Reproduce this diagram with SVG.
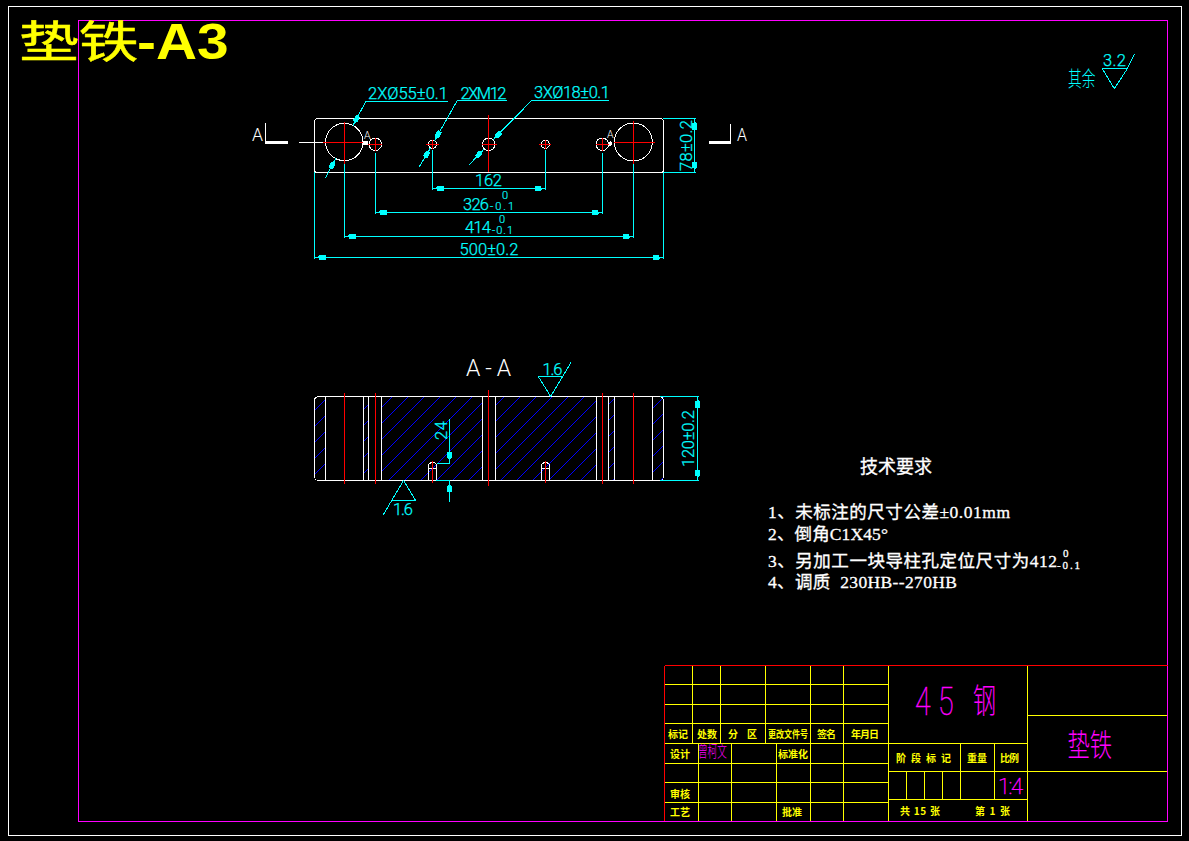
<svg xmlns="http://www.w3.org/2000/svg" width="1189" height="841" viewBox="0 0 1189 841" shape-rendering="crispEdges">
<style>
.w{fill:none;stroke:#fff;stroke-width:1}
.r{fill:none;stroke:#f00;stroke-width:1}
.c{fill:none;stroke:#0ff;stroke-width:1}
.y{fill:none;stroke:#ff0;stroke-width:1}
.m{fill:none;stroke:#f0f;stroke-width:1}
.b{fill:none;stroke:#0000ff;stroke-width:1}
.ca{fill:none;stroke:#0ff;stroke-width:1;marker-end:url(#ar)}
.cb{fill:none;stroke:#0ff;stroke-width:1;marker-start:url(#ar);marker-end:url(#ar)}
text{font-family:Roboto,"Noto Sans CJK SC",sans-serif;font-weight:300}
.tc{fill:#0ff;stroke:#0ff;stroke-width:.25;font-size:16.5px}
.ts{fill:#0ff;stroke:#0ff;stroke-width:.2;font-size:11px}
.tw{fill:#fff;font-size:16px}
.ty{fill:#ff0;font-size:10px;font-weight:700;font-family:"Noto Sans CJK SC",sans-serif}
.tm{fill:#f0f;font-family:"Noto Sans CJK SC",sans-serif;font-weight:300}
.tl{fill:#f0f;stroke:#f0f;stroke-width:.45;font-family:Roboto,sans-serif;font-weight:100}
.tr{fill:#fff;stroke:#fff;stroke-width:.3;font-family:"Liberation Serif","Noto Sans CJK SC",serif;font-size:17.5px;font-weight:400}
.tt{fill:#ff0;stroke:#ff0;stroke-width:.5;font-family:"Noto Sans CJK SC",sans-serif;font-weight:400}
</style>
<defs>
<marker id="ar" markerUnits="userSpaceOnUse" markerWidth="14" markerHeight="8" refX="12" refY="4" orient="auto-start-reverse"><polygon points="12,4 8,3 7,1.6 1,1.6 1,6.4 7,6.4 8,5" fill="#0ff"/></marker>
<clipPath id="hz"><rect x="314" y="396" width="11.3" height="84.5"/><rect x="363.3" y="396" width="5" height="84.5"/><rect x="381.3" y="396" width="101" height="84.5"/><rect x="495.3" y="396" width="101" height="84.5"/><rect x="608.3" y="396" width="6" height="84.5"/><rect x="652.3" y="396" width="11.4" height="84.5"/></clipPath>
</defs>
<rect width="1189" height="841" fill="#000"/>
<g id="frame">
<rect class="w" x="8.5" y="6.5" width="1173" height="829"/>
<rect class="m" x="78.5" y="20.5" width="1089" height="801"/>
</g>
<g id="title">
<text class="tt" transform="translate(19,58) scale(1.36,1)" style="font-size:44px">垫铁</text>
<text transform="translate(137,59) scale(1.16,1)" fill="#ff0" style="font-size:49px;font-weight:700;font-family:'Liberation Sans',sans-serif">-A3</text>
</g>

<g id="roughness-other">
<path class="c" d="M1102.3 68.7H1127.3L1114.3 88.7L1102.3 68.7M1127.3 68.7L1134.7 54"/>
<text class="tc" x="1103" y="66" textLength="23">3.2</text>
<text class="tc" transform="translate(1068,86) scale(.65,1)" style="font-size:21px;font-family:'Noto Sans CJK SC',sans-serif;font-weight:300;stroke-width:0">其余</text>
</g>

<g id="top-view">
<rect class="w" x="314.5" y="118.5" width="349" height="54" rx="3"/>
<circle class="w" cx="344.3" cy="142" r="18.7"/>
<circle class="w" cx="633.3" cy="142" r="19"/>
<circle class="w" cx="375.3" cy="144.3" r="6.3"/>
<circle class="w" cx="432.5" cy="144.3" r="4"/>
<circle class="w" cx="488.7" cy="144.3" r="6.3"/>
<circle class="w" cx="545.3" cy="144.3" r="4"/>
<circle class="w" cx="602.3" cy="144.3" r="6.3"/>
<path class="r" d="M323 142H364M344.5 121.5V164M614 142H655M633.5 121V164M368 144.5H382M375.5 138V151M426 144.5H439M432.5 140V149M482 144.5H496.7M488.5 115V172M539 144.5H551M545.5 140V149M596 144.5H609M602.5 138V151"/>
<path class="w" d="M299 142.5H323"/>
<path class="w" d="M265.5 123V142"/>
<path d="M265 142.5H288M709 142.5H731" stroke="#fff" stroke-width="3" fill="none"/>
<path class="w" d="M730.5 124V142"/>
<path d="M363 142.5H368M609 144L612 143" stroke="#fff" stroke-width="4" fill="none"/>
<text class="tw" x="252" y="141" style="font-size:18px" textLength="11" lengthAdjust="spacingAndGlyphs">A</text>
<text class="tw" x="737" y="141" style="font-size:18px" textLength="10" lengthAdjust="spacingAndGlyphs">A</text>
<text class="tw" x="364" y="138.5" style="font-size:10.5px">A</text>
<text class="tw" x="607" y="138" style="font-size:10.5px">A</text>
</g>

<g id="section-view">
<path class="b" clip-path="url(#hz)" d="M329 396L245 480M345 396L261 480M361 396L277 480M377 396L293 480M393 396L309 480M409 396L325 480M425 396L341 480M441 396L357 480M457 396L373 480M473 396L389 480M489 396L405 480M505 396L421 480M521 396L437 480M537 396L453 480M553 396L469 480M569 396L485 480M585 396L501 480M601 396L517 480M617 396L533 480M633 396L549 480M649 396L565 480M665 396L581 480M681 396L597 480M697 396L613 480M713 396L629 480M729 396L645 480M745 396L661 480"/>
<rect class="w" x="314.5" y="396.5" width="349" height="84" rx="4"/>
<path class="w" d="M325.5 396.5V480.5M363.5 396.5V480.5M368.5 396.5V480.5M381.5 396.5V480.5M482.5 396.5V480.5M495.5 396.5V480.5M596.5 396.5V480.5M608.5 396.5V480.5M614.5 396.5V480.5M652.5 396.5V480.5"/>
<path class="w" d="M428.5 480V464.5L431 462.5H434.5L436.5 464.5V480M428.5 468H436.5M541.5 480V464.5L544 462.5H547L549.5 464.5V480M541.5 468H549.5"/>
<path class="r" d="M344.5 393V484M375.5 393V484M488.5 390V486M602.5 393V484M633.5 393V484M432.5 461V483M545.5 461V483"/>
<text class="tw" x="466" y="376" style="font-size:23px" textLength="45">A-A</text>
</g>

<g id="connectors">
<path class="ca" d="M325.3 178.3L335.6 158.5"/>
<path class="ca" d="M366 101L353 125.5"/>
<path class="c" d="M366 101H448"/>
<path class="ca" d="M419.3 166.7L430.5 147.8"/>
<path class="ca" d="M457.3 100.5L434.5 140.8"/>
<path class="c" d="M457.3 100.5H506.7"/>
<path class="ca" d="M469.3 164.7L484.3 148.8"/>
<path class="ca" d="M531.7 100.5L493 139.8"/>
<path class="c" d="M531.7 100.5H609.3"/>
<path class="c" d="M432.5 150V190M545.5 150V190M375.5 153V214M602.5 153V214M344.5 164V238M633.5 164V238M314.5 172V259M663.5 172V259"/>
<path class="cb" d="M432.5 188.5H545.5"/>
<path class="cb" d="M375.5 212.5H602.5"/>
<path class="cb" d="M344.5 236.5H633.5"/>
<path class="cb" d="M314.5 257.5H663.5"/>
<path class="c" d="M663 118.5H696M663 172.5H696"/>
<path class="cb" d="M694.5 118.5V172.5"/>
<path class="c" d="M660 396.5H699M660 480.5H699"/>
<path class="cb" d="M697.5 396.5V480.5"/>
<path class="c" d="M437 463.5H450M436 480.5H450"/>
<path class="ca" d="M449.5 419V463"/>
<path class="ca" d="M449.5 502V481"/>
<path class="c" d="M403.5 480.5L391.7 500.5H415.7L403.5 480.5M391.7 500.5L383.3 514.7"/>
<path class="c" d="M538.3 376.5H562.7L550.7 396.5L538.3 376.5M562.7 376.5L571 362.3"/>
</g>

<g id="dimension-labels">
<text class="tc" x="368" y="99" textLength="80">2XØ55±0.1</text>
<text class="tc" x="460.5" y="99" textLength="46">2XM12</text>
<text class="tc" x="534" y="98" textLength="76">3XØ18±0.1</text>
<text class="tc" x="475" y="186" textLength="27">162</text>
<text class="tc" x="463" y="210" textLength="26">326</text>
<text class="ts" x="502" y="199">0</text>
<text class="ts" x="490" y="209.5" textLength="24">-0.1</text>
<text class="tc" x="465" y="233" textLength="26">414</text>
<text class="ts" x="499" y="223">0</text>
<text class="ts" x="492" y="234" textLength="21">-0.1</text>
<text class="tc" x="459.5" y="255" textLength="59">500±0.2</text>
<text class="tc" transform="translate(691.5,171) rotate(-90)" textLength="51">78±0.2</text>
<text class="tc" transform="translate(694,467) rotate(-90)" textLength="57">120±0.2</text>
<text class="tc" transform="translate(447,440) rotate(-90)" textLength="19">24</text>
<text class="tc" x="393" y="515" textLength="20">1.6</text>
<text class="tc" x="542.5" y="375" textLength="20">1.6</text>
</g>

<g id="requirements">
<text class="tr" x="860" y="473" style="font-size:18px">技术要求</text>
<text class="tr" x="768" y="517.5" textLength="242">1、未标注的尺寸公差±0.01mm</text>
<text class="tr" x="768" y="540" textLength="120">2、倒角C1X45°</text>
<text class="tr" x="768" y="566.5" textLength="289">3、另加工一块导柱孔定位尺寸为412</text>
<text class="tr" x="1063" y="557" style="font-size:11px">0</text>
<text class="tr" x="1057" y="568.5" style="font-size:11px" textLength="23">-0.1</text>
<text class="tr" x="768" y="588" textLength="189" xml:space="preserve">4、调质  230HB--270HB</text>
</g>

<g id="title-block">
<path class="y" d="M664.5 684.5H888.5M664.5 704.5H888.5M664.5 723.5H888.5M664.5 743.5H1027.5M664.5 763.5H888.5M664.5 782.5H888.5M664.5 802.5H888.5"/>
<path class="y" d="M692.5 665V743M720.5 665V743M765.5 665V743M810.5 665V821M843.5 665V821M888.5 665V821M698.5 743V821M731.5 743V821M776.5 743V821M1027.5 665V821M1027.5 715.5H1167M888.5 771.5H1167M888.5 799.5H1027.5M960.5 743V799M994.5 743V799M906.5 771V799M924.5 771V799M942.5 771V799"/>
<path class="r" d="M664.5 665.5H1167.5M664.5 665.5V821"/>
<text class="ty" x="668" y="738" textLength="20">标记</text>
<text class="ty" x="697" y="738" textLength="20">处数</text>
<text class="ty" x="728" y="738">分</text>
<text class="ty" x="747" y="738">区</text>
<text class="ty" x="768" y="738" textLength="40" lengthAdjust="spacingAndGlyphs">更改文件号</text>
<text class="ty" x="817" y="738" textLength="19">签名</text>
<text class="ty" x="851" y="738" textLength="28">年月日</text>
<text class="ty" x="670" y="758" textLength="20">设计</text>
<text class="ty" x="778" y="758" textLength="30">标准化</text>
<text class="ty" x="670" y="797.5" textLength="20">审核</text>
<text class="ty" x="670" y="816" textLength="20">工艺</text>
<text class="ty" x="782" y="816" textLength="20">批准</text>
<text class="ty" x="896" y="762" textLength="55">阶 段 标 记</text>
<text class="ty" x="967" y="762" textLength="20">重量</text>
<text class="ty" x="1000" y="762" textLength="19">比例</text>
<text class="ty" x="900" y="815" textLength="40" xml:space="preserve">共 15 张</text>
<text class="ty" x="975" y="815" textLength="35" xml:space="preserve">第 1 张</text>
<text class="tm" transform="translate(698,757) scale(.62,1)" style="font-size:15.5px">曾柯文</text>
<text class="tl" transform="translate(915,715) scale(.75,1)" style="font-size:38px">4</text>
<text class="tl" transform="translate(938,715) scale(.75,1)" style="font-size:38px">5</text>
<text class="tm" transform="translate(973,713) scale(.68,1)" style="font-size:34px">钢</text>
<text class="tm" transform="translate(1067.5,756) scale(.72,1)" style="font-size:31px">垫铁</text>
<text class="tl" x="998" y="794" style="font-size:22px" textLength="25">1:4</text>
</g>
</svg>
